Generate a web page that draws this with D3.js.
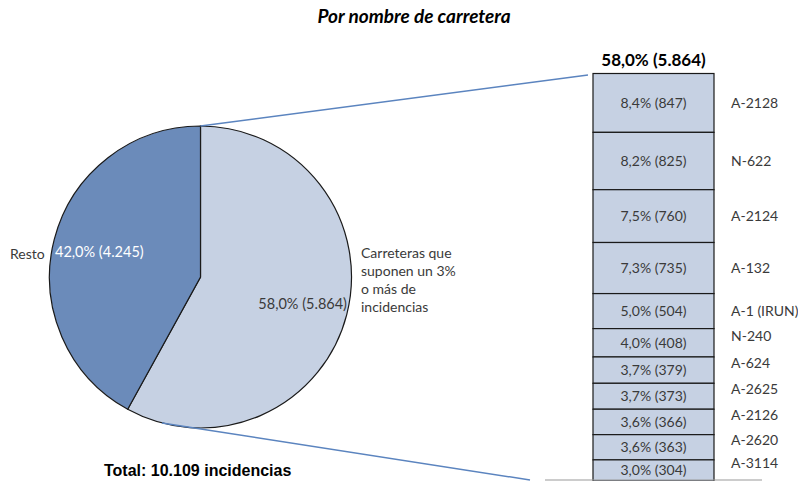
<!DOCTYPE html>
<html>
<head>
<meta charset="utf-8">
<script src="https://cdn.jsdelivr.net/npm/d3@7"></script>
<style>
  body { margin: 0; background: #fff; }
  svg { display: block; font-family: Lato, "Open Sans", sans-serif; }
</style>
</head>
<body>
<div id="chart"></div>
<script>
const width = 798
const height = 481

// pie: main split
const pieNames = ["Carreteras que suponen un 3% o más de incidencias", "Resto"]
const pieValues = [5864, 4245]
const pieLabels = ["58,0% (5.864)", "42,0% (4.245)"]

// stacked bar: breakdown of the 58%
const roads = ["A-2128", "N-622", "A-2124", "A-132", "A-1 (IRUN)", "N-240", "A-624", "A-2625", "A-2126", "A-2620", "A-3114"]
const roadValues = [847, 825, 760, 735, 504, 408, 379, 373, 366, 363, 304]
const roadLabels = ["8,4% (847)", "8,2% (825)", "7,5% (760)", "7,3% (735)", "5,0% (504)", "4,0% (408)",
                    "3,7% (379)", "3,7% (373)", "3,6% (366)", "3,6% (363)", "3,0% (304)"]

const lightBlue = "#c6d1e3"
const darkBlue = "#6b8bba"
const lineBlue = "#5b84bf"
const textCol = "#3a3a3a"

var svg = d3.select("#chart").append("svg")
  .attr("width", width)
  .attr("height", height)

// title
svg.append("text")
  .attr("x", 414).attr("y", 23)
  .attr("text-anchor", "middle")
  .style("font-weight", "bold").style("font-style", "italic").style("font-size", "19px")
  .text("Por nombre de carretera")

// --- pie
const cx = 200.5, cy = 277, r = 151
const pie = d3.pie().sort(null).startAngle(0).endAngle(2 * Math.PI)
const arcs = pie(pieValues)
const arc = d3.arc().innerRadius(0).outerRadius(r)

const pieG = svg.append("g").attr("transform", "translate(" + cx + "," + cy + ")")

// connector lines (drawn under the pie)
const bar = {x0: 593, x1: 714, top: 73.5, bottom: 481}
const topPt = [cx, cy - r]
const botAngle = 3.40   // point on the rim where the lower connector leaves
svg.append("line")
  .attr("x1", topPt[0]).attr("y1", topPt[1])
  .attr("x2", 588).attr("y2", 75)
  .attr("stroke", lineBlue).attr("stroke-width", 1.5)
svg.append("line")
  .attr("x1", cx + r * Math.sin(botAngle)).attr("y1", cy - r * Math.cos(botAngle))
  .attr("x2", 530).attr("y2", 480)
  .attr("stroke", lineBlue).attr("stroke-width", 1.5)

pieG.selectAll("path.slice")
  .data(arcs)
  .enter().append("path")
  .attr("class", "slice")
  .attr("d", arc)
  .attr("fill", (d, i) => i == 0 ? lightBlue : darkBlue)
  .attr("stroke", "#1a1a1a")
  .attr("stroke-width", 1.2)

// slice labels
svg.append("text")
  .attr("x", 347).attr("y", 309)
  .attr("text-anchor", "end")
  .style("font-size", "14.5px").style("fill", textCol)
  .text(pieLabels[0])
svg.append("text")
  .attr("x", 55).attr("y", 257)
  .style("font-size", "14.5px").style("fill", "#fff")
  .text(pieLabels[1])
svg.append("text")
  .attr("x", 10).attr("y", 259)
  .style("font-size", "14px").style("fill", textCol)
  .text(pieNames[1])

const catLines = ["Carreteras que", "suponen un 3%", "o más de", "incidencias"]
svg.append("text")
  .attr("x", 361).attr("y", 258)
  .style("font-size", "14px").style("fill", textCol)
  .selectAll("tspan")
  .data(catLines)
  .enter().append("tspan")
  .attr("x", 361)
  .attr("dy", (d, i) => i == 0 ? 0 : 18)
  .text(d => d)

// total
svg.append("text")
  .attr("x", 104).attr("y", 476)
  .style("font-family", "'Liberation Sans', Arial, sans-serif")
  .style("font-weight", "bold").style("font-size", "16px")
  .text("Total: 10.109 incidencias")

// --- stacked bar
const total = d3.sum(roadValues)
var yBar = d3.scaleLinear().domain([0, total]).range([bar.top, bar.bottom])
var stack = []
var acc = 0
roadValues.forEach(function(v, i) {
  stack.push({name: roads[i], label: roadLabels[i], y0: acc, y1: acc + v})
  acc += v
})

svg.append("text")
  .attr("x", (bar.x0 + bar.x1) / 2).attr("y", 66)
  .attr("text-anchor", "middle")
  .style("font-weight", "bold").style("font-size", "17px")
  .text("58,0% (5.864)")

svg.selectAll("rect.seg")
  .data(stack)
  .enter().append("rect")
  .attr("class", "seg")
  .attr("x", bar.x0)
  .attr("width", bar.x1 - bar.x0)
  .attr("y", d => yBar(d.y0))
  .attr("height", d => yBar(d.y1) - yBar(d.y0))
  .attr("fill", lightBlue)
  .attr("stroke", "#1a1a1a")
  .attr("stroke-width", 1.2)

svg.selectAll("text.val")
  .data(stack)
  .enter().append("text")
  .attr("class", "val")
  .attr("x", (bar.x0 + bar.x1) / 2)
  .attr("y", d => (yBar(d.y0) + yBar(d.y1)) / 2 + 5)
  .attr("text-anchor", "middle")
  .style("font-size", "14px").style("fill", textCol)
  .text(d => d.label)

svg.selectAll("text.road")
  .data(stack)
  .enter().append("text")
  .attr("class", "road")
  .attr("x", 731)
  .attr("y", function(d) {
    var h = yBar(d.y1) - yBar(d.y0)
    var mid = (yBar(d.y0) + yBar(d.y1)) / 2
    return (h < 30 ? mid - 7 : mid) + 5
  })
  .style("font-size", "14px").style("fill", textCol)
  .text(d => d.name)

// gray rule at the bottom
svg.append("line")
  .attr("x1", 545).attr("x2", 762)
  .attr("y1", 480).attr("y2", 480)
  .attr("stroke", "#999").attr("stroke-width", 1)
</script>
</body>
</html>
